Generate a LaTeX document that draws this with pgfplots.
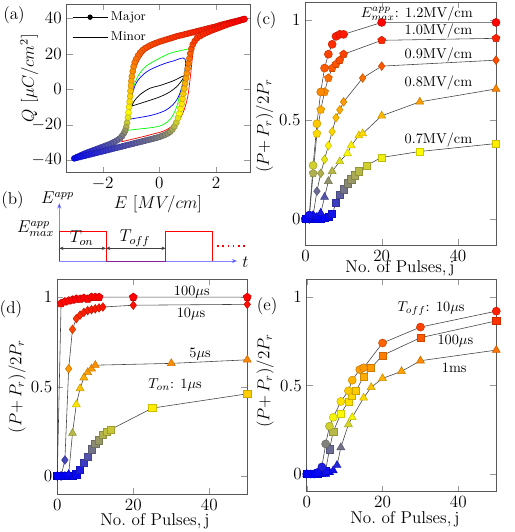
\documentclass[border=0pt]{standalone}
\usepackage{pgfplots}
\pgfplotsset{compat=1.18}
\usetikzlibrary{arrows.meta}

\newcommand{\fs}[1]{\fontsize{#1}{1.2\dimexpr#1pt\relax}\selectfont}

\pgfplotsset{
  colormap={byor}{rgb255=(0,0,255) rgb255=(255,255,0) rgb255=(255,128,0) rgb255=(255,0,0)},
  panel/.style={
    scale only axis, clip=false,
    axis line style={black!65},
    tick style={black!40},
    tick align=inside,
    tick label style={font=\fs{12.5}},
    label style={font=\fs{12}},
  },
  pulses/.style={panel, xmin=0, xmax=50, xtick={0,20,40}, ytick={0,0.5,1},
    xlabel={No.\ of Pulses,\,j}, ylabel={$(P{+}\,P_r)/2P_r$},
    point meta min=0, point meta max=1},
  series/.style={scatter, black!75, line width=0.4pt, point meta=y, mark=#1},
  minor/.style={line width=0.5pt, smooth, tension=0.55, forget plot},
}

\begin{document}
\begin{tikzpicture}
\path[use as bounding box] (0,0) rectangle (360.5pt,-372.4pt);

% ---------------- (a) hysteresis loops ----------------
\begin{axis}[panel, at={(46.7pt,-2.8pt)}, anchor=north west,
  width=128.3pt, height=118.1pt,
  xmin=-3.27, xmax=3.2, ymin=-47.1, ymax=48.1,
  xtick={-2,0,2}, ytick={-40,-20,0,20,40},
  tick label style={font=\fs{11.5}},
  xlabel={$E\ [MV/cm]$}, ylabel={$Q\ [\mu C/cm^2]$},
  xlabel style={at={(axis description cs:0.498,-0.186)}, anchor=center},
  ylabel style={at={(axis description cs:-0.205,0.56)}, anchor=center},
  point meta min=-40, point meta max=40,
  legend cell align=left,
  legend image code/.code={\draw[mark repeat=2,mark phase=2,#1]
     plot coordinates {(0pt,0pt) (12.3pt,0pt) (24.6pt,0pt)};},
  legend style={draw=none, fill=none, at={(0.005,0.99)}, anchor=north west,
    font=\fs{9}, row sep=2.5pt},
]
\addlegendimage{black, line width=0.5pt, mark=*, mark size=1.6pt}
\addlegendentry{Major}
\addlegendimage{black, line width=0.5pt}
\addlegendentry{Minor}

% major loop: descending branch, then ascending branch
\addplot[scatter, black, line width=0.4pt, mark=*, mark size=2.1pt, point meta=y, forget plot]
coordinates {
(3.0,39.6) (2.9,39.2) (2.8,38.8) (2.7,38.4) (2.6,38.0) (2.5,37.6) (2.4,37.2)
(2.3,36.8) (2.2,36.4) (2.1,35.9) (2.0,35.4) (1.9,35.0) (1.8,34.6) (1.7,34.2)
(1.6,33.8) (1.5,33.4) (1.4,33.0) (1.3,32.6) (1.2,32.2) (1.1,31.8) (1.0,31.4)
(0.9,31.0) (0.8,30.6) (0.7,30.2) (0.6,29.8) (0.5,29.3) (0.4,28.8) (0.3,28.3)
(0.2,27.8) (0.1,27.3) (0.0,26.8) (-0.1,26.2) (-0.2,25.6) (-0.3,24.9) (-0.4,24.1)
(-0.5,23.2) (-0.6,22.0) (-0.68,20.6) (-0.75,19.0) (-0.82,17.0) (-0.87,15.0)
(-0.91,12.7) (-0.94,10.0) (-0.97,7.1) (-0.99,4.5) (-1.0,2.0) (-1.02,-1.0)
(-1.03,-4.0) (-1.05,-7.0) (-1.07,-10.0) (-1.09,-13.2) (-1.11,-16.0) (-1.14,-19.0)
(-1.17,-21.5) (-1.21,-23.5) (-1.26,-25.0) (-1.32,-26.5) (-1.4,-27.8) (-1.5,-28.9)
(-1.6,-29.8) (-1.7,-30.6) (-1.8,-31.3) (-1.9,-31.9) (-2.0,-32.5) (-2.1,-33.1)
(-2.2,-33.7) (-2.3,-34.3) (-2.4,-34.9) (-2.5,-35.5) (-2.6,-36.1) (-2.7,-36.8)
(-2.8,-37.5) (-2.9,-38.2) (-3.0,-39.0)
(-2.9,-38.6) (-2.8,-38.2) (-2.7,-37.8) (-2.6,-37.4) (-2.5,-37.0) (-2.4,-36.6)
(-2.3,-36.2) (-2.2,-35.8) (-2.1,-35.4) (-2.0,-35.0) (-1.9,-34.6) (-1.8,-34.2)
(-1.7,-33.8) (-1.6,-33.4) (-1.5,-33.0) (-1.4,-32.6) (-1.3,-32.2) (-1.2,-31.8)
(-1.1,-31.4) (-1.0,-31.0) (-0.9,-30.6) (-0.8,-30.2) (-0.7,-29.8) (-0.6,-29.4)
(-0.5,-29.0) (-0.4,-28.6) (-0.3,-28.2) (-0.2,-27.8) (-0.1,-27.4) (0.0,-26.9)
(0.1,-26.3) (0.2,-25.7) (0.3,-24.9) (0.38,-24.0) (0.46,-22.7) (0.53,-21.0)
(0.6,-18.8) (0.66,-16.2) (0.71,-13.6) (0.75,-11.0) (0.79,-8.2) (0.82,-5.4)
(0.85,-2.5) (0.88,0.4) (0.91,3.3) (0.94,6.2) (0.97,9.0) (1.0,11.8) (1.03,14.6)
(1.06,17.4) (1.09,20.2) (1.13,22.8) (1.18,25.2) (1.25,27.2) (1.33,28.8)
(1.44,30.0) (1.55,31.0) (1.65,31.8) (1.75,32.5) (1.85,33.2) (1.95,33.8)
(2.05,34.4) (2.15,35.0) (2.25,35.6) (2.35,36.2) (2.45,36.8) (2.55,37.3)
(2.65,37.8) (2.75,38.3) (2.85,38.8) (2.95,39.3) (3.0,39.6)
};

% minor loops
\addplot[minor, red] coordinates {
(-1.33,-29.6) (-0.8,-27.6) (-0.3,-25.6) (0.26,-22.8) (0.73,-16.5) (0.97,-6.5)
(1.08,5) (1.18,20) (1.26,30.6) (0.8,29.6) (0.38,28.0) (0.0,25.4) (-0.45,21.8)
(-0.68,17.4) (-0.86,10.8) (-0.98,1.4) (-1.09,-11.7) (-1.17,-20) (-1.27,-26.8)
(-1.33,-29.6)};
\addplot[minor, green] coordinates {
(-1.2,-23.3) (-0.8,-22.6) (0.0,-20.8) (0.38,-17.0) (0.61,-9.9) (0.79,1.4)
(0.91,10.8) (1.0,17.4) (1.08,22.5) (0.7,21.6) (0.38,20.3) (0.0,17.4) (-0.45,13.2)
(-0.74,7.8) (-0.92,0.5) (-1.03,-9.9) (-1.1,-17.4) (-1.2,-23.3)};
\addplot[minor, blue] coordinates {
(-1.09,-17) (-0.68,-15.9) (-0.21,-14.4) (0.26,-11.5) (0.61,-6.1) (0.83,3.3)
(0.91,16.9) (0.5,16.0) (0.02,13.5) (-0.45,9.8) (-0.8,4.0) (-0.98,-4.2)
(-1.06,-11.7) (-1.09,-17)};
\addplot[minor, black] coordinates {
(-0.98,-9.5) (-0.56,-7.4) (0.0,-4.4) (0.38,-1.4) (0.67,2.4) (0.87,7.5)
(0.5,4.8) (0.0,2.0) (-0.33,0.6) (-0.68,-3.0) (-0.88,-6.5) (-0.98,-9.5)};

\node[font=\fs{12}] at (axis cs:-5.13,41.9) {(a)};
\end{axis}

% ---------------- (b) pulse train ----------------
\begin{axis}[at={(41.5pt,-142.3pt)}, anchor=north west, scale only axis,
  width=131.2pt, height=40.4pt, xmin=0, xmax=187.4, ymin=0, ymax=57.7,
  axis lines=none, clip=false]
\addplot[red, line width=0.5pt] coordinates {
(0,0) (0,29.3) (46.7,29.3) (46.7,0) (106.4,0) (106.4,29.3) (153,29.3) (153,0)};
\addplot[red, line width=0.8pt, dash pattern=on 1.2pt off 2.4pt] coordinates {(158,15) (187.4,15)};
\draw[blue!80, opacity=0.6, line width=0.6pt, -{Stealth[length=4pt,width=3pt]}] (axis cs:0,0) -- (axis cs:0,58);
\draw[blue!80, opacity=0.6, line width=0.6pt, -{Stealth[length=4pt,width=3pt]}] (axis cs:0,0) -- (axis cs:178,0);
\draw[black!75, line width=0.4pt, {Stealth[length=3pt,width=2.4pt]}-{Stealth[length=3pt,width=2.4pt]}] (axis cs:0,12.7) -- (axis cs:46.7,12.7);
\draw[black!75, line width=0.4pt, {Stealth[length=3pt,width=2.4pt]}-{Stealth[length=3pt,width=2.4pt]}] (axis cs:46.7,12.7) -- (axis cs:106.4,12.7);
\node[font=\fs{11.5}] at (axis cs:22.4,23) {$T_{on}$};
\node[font=\fs{11.5}] at (axis cs:75.7,23) {$T_{off}$};
\node[font=\fs{11.5}, anchor=east] at (axis cs:0,32) {$E^{app}_{max}$};
\node[font=\fs{11.5}] at (axis cs:-1.8,63) {$E^{app}$};
\node[font=\fs{11.5}, anchor=west] at (axis cs:178,-1) {$t$};
\node[font=\fs{12}] at (axis cs:-46.8,61) {(b)};
\end{axis}

% ---------------- (c) amplitude dependence ----------------
\begin{axis}[pulses, at={(213.85pt,-1.4pt)}, anchor=north west,
  width=133.35pt, height=170.1pt, ymin=-0.131, ymax=1.093,
  ylabel style={at={(axis description cs:-0.215,0.49)}, anchor=center},
  xlabel style={at={(axis description cs:0.496,-0.095)}, anchor=center}]
\addplot[series=square*, mark size=2.5pt] coordinates {
(0,0) (1,0) (2,0) (3,0) (4,0) (5,0.005) (6,0.01) (7,0.025) (8,0.08) (9,0.12)
(10,0.15) (11,0.18) (12,0.2) (13,0.22) (14,0.24) (16,0.27) (20,0.31) (30,0.34) (50,0.38)};
\addplot[series=triangle*, mark size=3.2pt] coordinates {
(0,0) (1,0) (2,0.01) (3,0.01) (4,0.03) (5,0.11) (6,0.19) (7,0.24) (9,0.29)
(11,0.33) (12,0.37) (14,0.42) (15,0.43) (20,0.52) (30,0.59) (50,0.655)};
\addplot[series=diamond*, mark size=3.0pt] coordinates {
(0,0) (1,0) (2,0.02) (3,0.14) (4,0.23) (5,0.30) (6,0.37) (7,0.44) (8,0.51)
(9,0.55) (10,0.59) (15,0.71) (20,0.77) (50,0.80)};
\addplot[series=pentagon*, mark size=2.9pt] coordinates {
(0,0) (1,0.01) (2,0.23) (3,0.43) (4,0.55) (5,0.64) (6,0.71) (7,0.76) (8,0.78)
(9,0.80) (10,0.83) (20,0.90) (50,0.91)};
\addplot[series=*, mark size=2.8pt] coordinates {
(0,0) (1,0.02) (2,0.27) (3,0.48) (4,0.64) (5,0.76) (6,0.83) (7,0.88) (8,0.92)
(9,0.93) (10,0.93) (20,0.99) (50,0.99)};
\node[font=\fs{10}, anchor=east] at (axis cs:45.2,1.035) {$E^{app}_{max}$: 1.2MV/cm};
\node[font=\fs{10}] at (axis cs:34.9,0.946) {1.0MV/cm};
\node[font=\fs{10}] at (axis cs:34.9,0.828) {0.9MV/cm};
\node[font=\fs{10}] at (axis cs:34.9,0.685) {0.8MV/cm};
\node[font=\fs{10}] at (axis cs:34.9,0.400) {0.7MV/cm};
\node[font=\fs{12}] at (rel axis cs:-0.206,0.926) {(c)};
\end{axis}

% ---------------- (d) pulse width dependence ----------------
\begin{axis}[pulses, at={(40.1pt,-195.5pt)}, anchor=north west,
  width=133pt, height=150.3pt, ymin=-0.1, ymax=1.1,
  ylabel style={at={(axis description cs:-0.212,0.5)}, anchor=center},
  xlabel style={at={(axis description cs:0.514,-0.126)}, anchor=center}]
\addplot[series=square*, mark size=2.5pt] coordinates {
(0,0) (1,0) (2,0) (3,0) (4,0) (5,0.01) (6,0.035) (7,0.076) (8,0.11) (9,0.15)
(10,0.18) (11,0.2) (12,0.23) (13,0.25) (14,0.26) (25,0.38) (50,0.46)};
\addplot[series=triangle*, mark size=3.2pt] coordinates {
(0,0) (1,0) (2,0) (3,0.01) (4,0.24) (5,0.40) (6,0.49) (7,0.55) (8,0.58)
(9,0.60) (10,0.62) (30,0.63) (50,0.65)};
\addplot[series=diamond*, mark size=3.0pt] coordinates {
(0,0) (1,0) (2,0.09) (3,0.60) (4,0.82) (5,0.88) (6,0.90) (7,0.915) (8,0.925)
(9,0.93) (10,0.935) (11,0.94) (12,0.945) (20,0.955) (50,0.96)};
\addplot[series=pentagon*, mark size=2.9pt] coordinates {
(0,0) (1,0.965) (2,0.975) (3,0.98) (4,0.985) (5,0.99) (6,0.99) (7,0.995)
(8,0.99) (9,1.0) (10,1.0) (11,1.0) (20,1.0) (50,1.0)};
\node[font=\fs{10}] at (axis cs:35.4,1.03) {100$\mu$s};
\node[font=\fs{10}] at (axis cs:35.2,0.907) {10$\mu$s};
\node[font=\fs{10}] at (axis cs:37.6,0.68) {5$\mu$s};
\node[font=\fs{10}] at (axis cs:31.0,0.51) {$T_{on}$: 1$\mu$s};
\node[font=\fs{12}] at (rel axis cs:-0.244,0.862) {(d)};
\end{axis}

% ---------------- (e) pulse interval dependence ----------------
\begin{axis}[pulses, at={(214.7pt,-195.5pt)}, anchor=north west,
  width=132.7pt, height=148.7pt, ymin=-0.1, ymax=1.1,
  ylabel style={at={(axis description cs:-0.22,0.521)}, anchor=center},
  xlabel style={at={(axis description cs:0.518,-0.129)}, anchor=center}]
\addplot[series=triangle*, mark size=3.2pt] coordinates {
(0,0) (2,0) (4,0) (5,0) (6,0.01) (7,0.02) (8,0.05) (9,0.15) (11,0.28)
(12,0.32) (15,0.43) (17,0.49) (20,0.54) (25,0.58) (30,0.64) (50,0.70)};
\addplot[series=square*, mark size=2.5pt] coordinates {
(0,0) (1,0) (2,0) (3,0) (4,0.01) (5,0.02) (6,0.14) (7,0.24) (9,0.34) (11,0.41)
(12,0.44) (13,0.47) (15,0.55) (17,0.60) (20,0.67) (30,0.77) (50,0.865)};
\addplot[series=*, mark size=2.8pt] coordinates {
(0,0) (1,0) (2,0) (3,0.01) (4,0.04) (5,0.17) (6,0.27) (7,0.32) (9,0.41)
(11,0.47) (12,0.53) (14,0.59) (15,0.60) (20,0.74) (30,0.83) (50,0.92)};
\node[font=\fs{10}] at (axis cs:32.8,0.933) {$T_{off}$: 10$\mu$s};
\node[font=\fs{10}] at (axis cs:39.2,0.753) {100$\mu$s};
\node[font=\fs{10}] at (axis cs:38.9,0.60) {1ms};
\node[font=\fs{12}] at (rel axis cs:-0.209,0.874) {(e)};
\end{axis}
\end{tikzpicture}
\end{document}
